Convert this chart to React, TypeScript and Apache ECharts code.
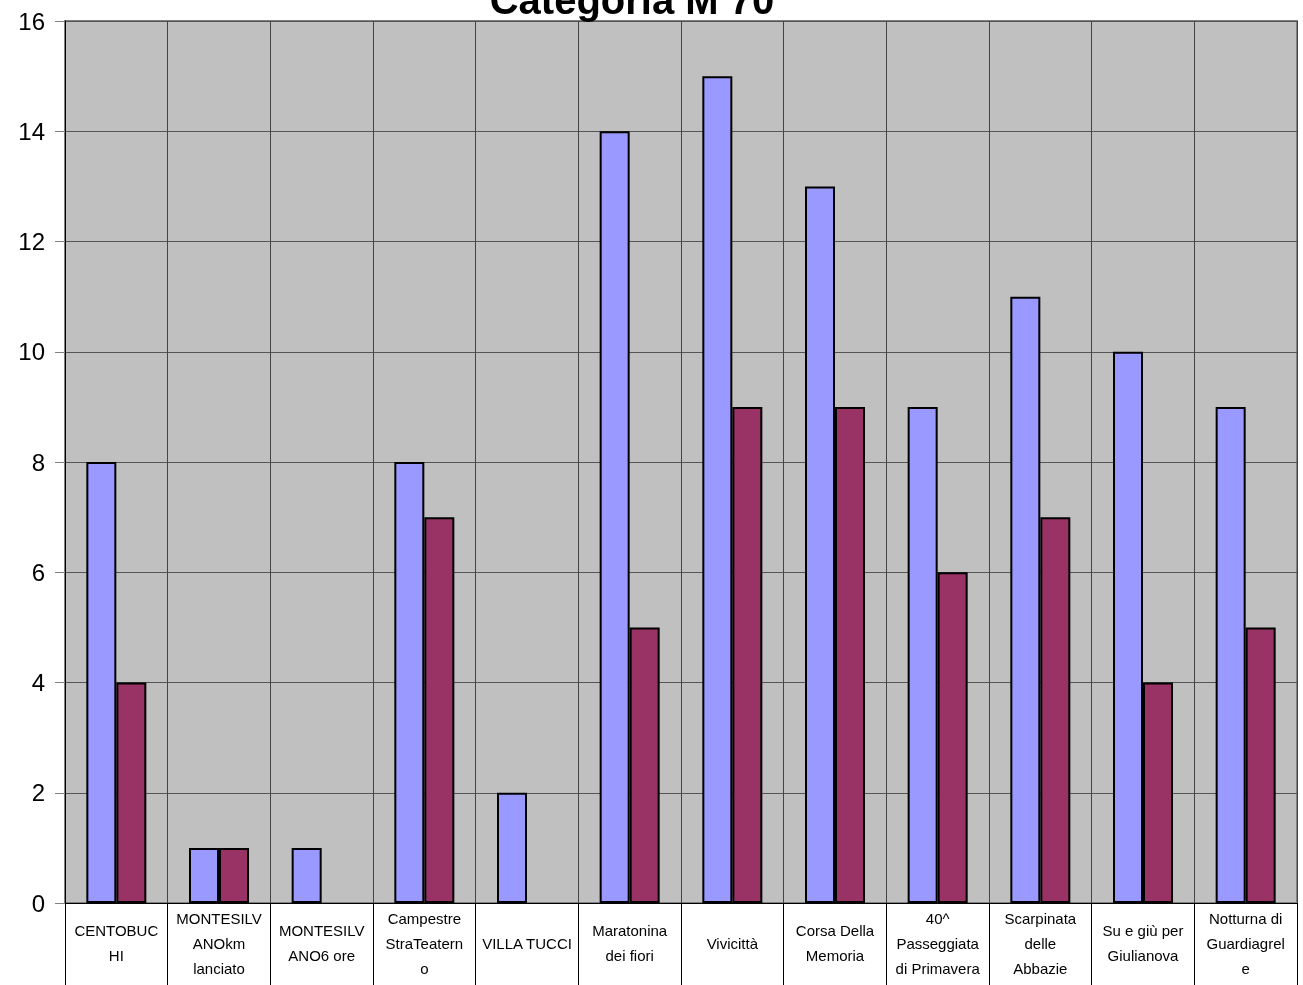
import React, { useEffect, useRef } from "react";
import * as echarts from "echarts";

const titleText = "Categoria M 70";
const categories = [
  "CENTOBUC\nHI",
  "MONTESILV\nANOkm\nlanciato",
  "MONTESILV\nANO6 ore",
  "Campestre\nStraTeatern\no",
  "VILLA TUCCI",
  "Maratonina\ndei fiori",
  "Vivicittà",
  "Corsa Della\nMemoria",
  "40^\nPasseggiata\ndi Primavera",
  "Scarpinata\ndelle\nAbbazie",
  "Su e giù per\nGiulianova",
  "Notturna di\nGuardiagrel\ne",
];
const seriesA = [8, 1, 1, 8, 2, 14, 15, 13, 9, 11, 10, 9];
const seriesB = [4, 1, null, 7, null, 5, 9, 9, 6, 7, 4, 5];
const yTicks = { min: 0, max: 16, interval: 2 };

export default function App() {
  const ref = useRef<HTMLDivElement>(null);
  useEffect(() => {
    if (!ref.current) return;
    const chart = echarts.init(ref.current, null, { renderer: "svg" });
    const font = "Arial, 'Liberation Sans', sans-serif";
    chart.setOption({
      animation: false,
      textStyle: { fontFamily: font },
      graphic: [
        {
          type: "text",
          x: 632,
          y: 0,
          z: 100,
          style: {
            text: titleText,
            font: `bold 40px ${font}`,
            fill: "#000",
            textAlign: "center",
            textVerticalAlign: "middle",
          },
        },
      ],
      grid: {
        left: 65,
        right: 6,
        top: 21,
        bottom: 82,
        show: true,
        backgroundColor: "#C0C0C0",
        borderColor: "#808080",
        borderWidth: 2,
      },
      xAxis: {
        type: "category",
        data: categories,
        boundaryGap: true,
        axisLine: { show: true, lineStyle: { color: "#000", width: 1 } },
        axisTick: {
          show: true,
          interval: 0,
          alignWithLabel: false,
          length: 90,
          lineStyle: { color: "#000", width: 1 },
        },
        axisLabel: {
          interval: 0,
          margin: 40,
          verticalAlign: "middle",
          lineHeight: 25,
          fontSize: 15,
          color: "#000",
          fontFamily: font,
        },
        splitLine: { show: true, interval: 0, lineStyle: { color: "#444", width: 1 } },
      },
      yAxis: {
        type: "value",
        min: yTicks.min,
        max: yTicks.max,
        interval: yTicks.interval,
        axisLine: { show: true, lineStyle: { color: "#000", width: 1 } },
        axisTick: { show: true, length: 10, lineStyle: { color: "#808080" } },
        axisLabel: { fontSize: 24, color: "#000", margin: 20, fontFamily: font },
        splitLine: { show: true, lineStyle: { color: "#555", width: 1 } },
      },
      series: [
        {
          name: "Serie1",
          type: "bar",
          data: seriesA,
          barWidth: 30,
          barGap: "0%",
          itemStyle: { color: "#9999FF", borderColor: "#000", borderWidth: 2 },
        },
        {
          name: "Serie2",
          type: "bar",
          data: seriesB,
          barWidth: 30,
          barGap: "0%",
          itemStyle: { color: "#993366", borderColor: "#000", borderWidth: 2 },
        },
      ],
    });
    return () => chart.dispose();
  }, []);
  return (
    <div
      ref={ref}
      style={{ position: "fixed", left: 0, top: 0, width: 1303, height: 985 }}
    />
  );
}
